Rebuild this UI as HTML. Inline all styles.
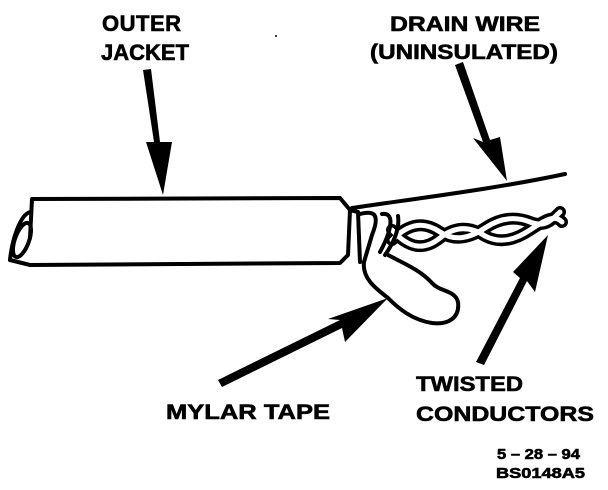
<!DOCTYPE html>
<html><head><meta charset="utf-8"><style>
html,body{margin:0;padding:0;background:#fff;}
svg{display:block}
text{font-family:"Liberation Sans",sans-serif;font-weight:bold;fill:#000;stroke:#000;stroke-width:0.6}
</style></head><body>
<svg width="608" height="490" viewBox="0 0 608 490" xmlns="http://www.w3.org/2000/svg">
<g font-size="21">
<text x="102" y="31" font-size="22" letter-spacing="0.5">OUTER</text>
<text x="101" y="60" font-size="22">JACKET</text>
<text x="390" y="31" textLength="150" lengthAdjust="spacingAndGlyphs">DRAIN WIRE</text>
<text x="370" y="59" textLength="188" lengthAdjust="spacingAndGlyphs">(UNINSULATED)</text>
<text x="166" y="419" textLength="164" lengthAdjust="spacingAndGlyphs">MYLAR TAPE</text>
<text x="416" y="391" textLength="107" lengthAdjust="spacingAndGlyphs">TWISTED</text>
<text x="416" y="421" textLength="178" lengthAdjust="spacingAndGlyphs">CONDUCTORS</text>
</g>
<g font-size="15">
<text x="497" y="459" textLength="83" lengthAdjust="spacingAndGlyphs">5 – 28 – 94</text>
<text x="496" y="478" textLength="89" lengthAdjust="spacingAndGlyphs">BS0148A5</text>
</g>
<circle cx="276" cy="36" r="1" fill="#000"/>
<g fill="none" stroke-linecap="round" stroke-linejoin="round">
<path d="M392,240 C410,222 425,222 440,232 C455,242 470,238 485,228 C500,218 515,216 530,222 C545,228 552,220 560,212" stroke="#000" stroke-width="12"/>
<path d="M392,230 C410,250 425,250 440,238 C455,226 470,226 485,236 C500,244 515,240 530,230 C545,220 555,214 562,222" stroke="#000" stroke-width="12"/>
<path d="M392,240 C410,222 425,222 440,232 C455,242 470,238 485,228 C500,218 515,216 530,222 C545,228 552,220 560,212" stroke="#fff" stroke-width="5"/>
<path d="M392,230 C410,250 425,250 440,238 C455,226 470,226 485,236 C500,244 515,240 530,230 C545,220 555,214 562,222" stroke="#fff" stroke-width="5"/>
</g>
<g fill="none" stroke="#000" stroke-width="4" stroke-linejoin="round" stroke-linecap="round">
<path d="M30,238 L32,199 L340,198 L350,210 L348,255 L340,263 L30,265 L10,260"/>
<path d="M30,212 C20,215 12,240 10,260"/>
<ellipse cx="22" cy="240" rx="7" ry="18" transform="rotate(20 22 240)"/>
<path d="M350,210 L358,212 L360,262"/>
<path d="M360,214 C375,210 380,215 372,235 L364,262"/>
<path d="M382,214 C395,212 392,230 380,252"/>
<path d="M398,216 C400,230 392,245 385,255"/>
<path d="M352,208 C420,198 500,188 565,174"/>
<path d="M364,262 C362,278 375,288 388,298 C398,308 412,320 432,323 C448,325 460,318 458,302 C455,290 440,292 432,283 C420,270 405,264 388,255"/>
</g>
<g fill="#000">
<polygon points="143,70 151,69 160,142 172,142 163,195 146,142 154,142"/>
<polygon points="455,65 463,62 490,140 500,137 507,181 473,138 483,142"/>
<polygon points="218,380 340,320 328,319 388,298 345,342 342,328 222,387"/>
<polygon points="476,362 520,278 513,272 548,235 535,292 527,281 484,365"/>
</g>
</svg>
</body></html>
